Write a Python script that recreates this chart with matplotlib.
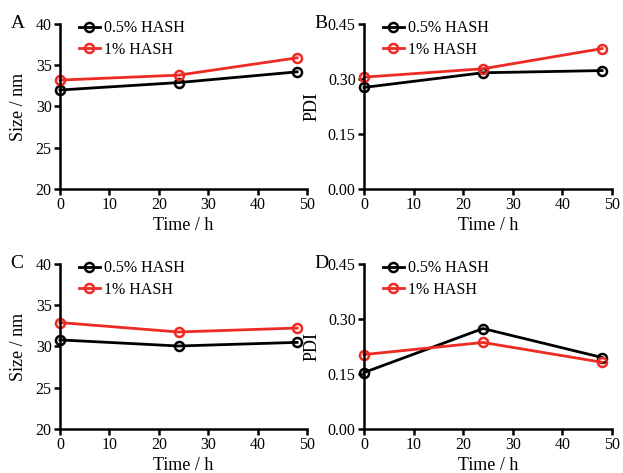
import matplotlib
matplotlib.use('Agg')
import matplotlib.pyplot as plt
import numpy as np

plt.rcParams['font.family'] = ['Liberation Serif', 'DejaVu Serif']

time_h = [0, 24, 48]
labels = ["0.5% HASH", "1% HASH"]

size_a_05 = [32.0, 32.9, 34.2]
size_a_1 = [33.2, 33.8, 35.9]
pdi_b_05 = [0.277, 0.317, 0.323]
pdi_b_1 = [0.305, 0.328, 0.383]
size_c_05 = [30.8, 30.06, 30.5]
size_c_1 = [32.9, 31.76, 32.24]
pdi_d_05 = [0.154, 0.274, 0.195]
pdi_d_1 = [0.203, 0.236, 0.182]

panels = [
    ("A", size_a_05, size_a_1, "Size / nm", (20, 40), [20, 25, 30, 35, 40], "%d"),
    ("B", pdi_b_05, pdi_b_1, "PDI", (0, 0.45), [0, 0.15, 0.30, 0.45], "%.2f"),
    ("C", size_c_05, size_c_1, "Size / nm", (20, 40), [20, 25, 30, 35, 40], "%d"),
    ("D", pdi_d_05, pdi_d_1, "PDI", (0, 0.45), [0, 0.15, 0.30, 0.45], "%.2f"),
]

W, H = 623, 473
fig = plt.figure(figsize=(W / 100, H / 100), dpi=100)

# axes boxes in pixels: left, top, right, bottom
boxes = [(60, 24, 307, 189), (364, 24, 612, 189),
         (60, 264, 307, 429), (364, 264, 612, 429)]

for (letter, s05, s1, ylab, ylim, yticks, fmt), (l, t, r, b) in zip(panels, boxes):
    ax = fig.add_axes([l / W, 1 - b / H, (r - l) / W, (b - t) / H])
    ax.plot(time_h, s05, '-o', color='black', lw=2, ms=6.5, mfc='none', mew=1.8, label=labels[0], clip_on=False)
    ax.plot(time_h, s1, '-o', color='#ee2a24', lw=2, ms=6.5, mfc='none', mew=1.8, label=labels[1], clip_on=False)
    ax.set_xlim(0, 50)
    ax.set_ylim(*ylim)
    ax.set_xticks([0, 10, 20, 30, 40, 50])
    ax.set_yticks(yticks)
    ax.set_yticklabels([fmt % v for v in yticks])
    for s in ['top', 'right']:
        ax.spines[s].set_visible(False)
    for s in ['left', 'bottom']:
        ax.spines[s].set_linewidth(1.8)
    ax.tick_params(direction='out', width=1.8, length=4, labelsize=11.5, pad=2)
    ax.set_xlabel("Time / h", fontsize=13)
    ax.set_ylabel(ylab, fontsize=13)
    ax.xaxis.set_label_coords(0.5, -0.17)
    ax.yaxis.set_label_coords(-0.134 if ylab.startswith("Size") else -0.177, 0.5)
    ax.text(-0.2, 1.0, letter, transform=ax.transAxes, fontsize=14, ha='left', va='center')
    ax.legend(loc='upper left', bbox_to_anchor=(0.05, 1.06), frameon=False, fontsize=11.5,
              handlelength=1.3, handletextpad=0.3, labelspacing=0.35, borderaxespad=0)

plt.savefig('out.png', dpi=100)
